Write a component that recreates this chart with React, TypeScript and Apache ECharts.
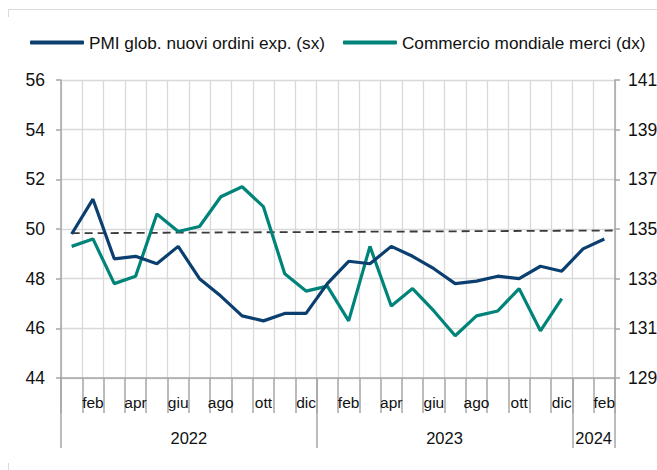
import React, { useEffect, useRef } from "react";
import * as echarts from "echarts";

const monthNames = ["gen", "feb", "mar", "apr", "mag", "giu", "lug", "ago", "set", "ott", "nov", "dic"];
const years = ["2022", "2023", "2024"];
const monthsPerYear = [12, 12, 2];

const pmi = [
  49.8, 51.2, 48.8, 48.9, 48.6, 49.3, 48.0, 47.3, 46.5, 46.3, 46.6, 46.6,
  47.8, 48.7, 48.6, 49.3, 48.9, 48.4, 47.8, 47.9, 48.1, 48.0, 48.5, 48.3,
  49.2, 49.6,
];
const trade = [
  134.3, 134.6, 132.8, 133.1, 135.6, 134.9, 135.1, 136.3, 136.7, 135.9, 133.2, 132.5,
  132.7, 131.3, 134.3, 131.9, 132.6, 131.7, 130.7, 131.5, 131.7, 132.6, 130.9, 132.2,
  null, null,
];
// reference dashed line (left-axis units), from first month to right edge
const refLine = [
  [0.5, 49.83],
  [26, 49.94],
];

const FONT = "'Liberation Sans', Arial, sans-serif";
const GRID = "#d9d9d9";
const AXIS = "#a6a6a6";

export default function App() {
  const ref = useRef<HTMLDivElement>(null);
  useEffect(() => {
    document.body.style.margin = "0";
    if (!ref.current) return;
    const chart = echarts.init(ref.current, null, { renderer: "svg" });

    const categories: string[] = [];
    monthsPerYear.forEach((n, yi) => {
      for (let m = 0; m < n; m++) categories.push(monthNames[m] + " " + years[yi]);
    });
    const total = categories.length;
    // boundary-based year axis (total + 1 positions)
    const yearAxis: string[] = new Array(total + 1).fill("");
    const boundaries: number[] = [0];
    let start = 0;
    monthsPerYear.forEach((n, yi) => {
      yearAxis[start + n / 2] = years[yi];
      start += n;
      boundaries.push(start);
    });
    const yearLabelIdx = yearAxis.map((v, i) => (v ? i : -1)).filter((i) => i >= 0);

    chart.setOption({
      animation: false,
      textStyle: { fontFamily: FONT },
      grid: { left: 61, right: 42, top: 80, bottom: 92, outerBoundsMode: "none" },
      legend: {
        left: 30,
        top: 34,
        width: 627,
        padding: 0,
        icon: "roundRect",
        itemWidth: 54,
        itemHeight: 4,
        itemGap: 18,
        textStyle: { fontFamily: FONT, fontSize: 17.2, color: "#111" },
        data: ["PMI glob. nuovi ordini exp. (sx)", "Commercio mondiale merci (dx)"],
      },
      graphic: [
        { type: "line", shape: { x1: 8, y1: 9.5, x2: 657, y2: 9.5 }, style: { stroke: GRID, lineWidth: 1 } },
        { type: "line", shape: { x1: 8.5, y1: 9, x2: 8.5, y2: 17 }, style: { stroke: GRID, lineWidth: 1 } },
        { type: "line", shape: { x1: 8.5, y1: 463, x2: 8.5, y2: 470 }, style: { stroke: GRID, lineWidth: 1 } },
      ],
      xAxis: [
        {
          type: "category",
          data: categories,
          boundaryGap: true,
          position: "bottom",
          axisLine: { show: true, lineStyle: { color: AXIS, width: 1.5 } },
          axisTick: { show: true, interval: 0, length: 35, lineStyle: { color: AXIS, width: 1.5 } },
          axisLabel: {
            interval: (i: number) => i % 2 === 1,
            formatter: (v: string) => v.split(" ")[0],
            margin: 16,
            fontSize: 15.5,
            color: "#111",
            fontFamily: FONT,
          },
          splitLine: { show: true, interval: 0, lineStyle: { color: GRID, width: 1.3 } },
        },
        {
          type: "category",
          data: yearAxis,
          boundaryGap: false,
          position: "bottom",
          axisLine: { show: false },
          axisTick: {
            show: true,
            length: 70,
            interval: (i: number) => boundaries.includes(i),
            lineStyle: { color: AXIS, width: 1.5 },
          },
          axisLabel: {
            interval: (i: number) => yearLabelIdx.includes(i),
            margin: 51,
            fontSize: 16.5,
            color: "#111",
            fontFamily: FONT,
          },
          splitLine: { show: false },
        },
        { type: "value", min: 0, max: total, show: false, position: "top" },
      ],
      yAxis: [
        {
          type: "value",
          min: 44,
          max: 56,
          interval: 2,
          position: "left",
          axisLine: { show: true, lineStyle: { color: AXIS, width: 1.5 } },
          axisTick: { show: true, length: 5, lineStyle: { color: AXIS, width: 1.5 } },
          axisLabel: { margin: 16, fontSize: 17.5, color: "#111", fontFamily: FONT },
          splitLine: { show: true, lineStyle: { color: GRID, width: 1.3 } },
        },
        {
          type: "value",
          min: 129,
          max: 141,
          interval: 2,
          position: "right",
          axisLine: { show: true, lineStyle: { color: AXIS, width: 1.5 } },
          axisTick: { show: true, length: 5, lineStyle: { color: AXIS, width: 1.5 } },
          axisLabel: { margin: 13, fontSize: 17.5, color: "#111", fontFamily: FONT },
          splitLine: { show: false },
        },
      ],
      series: [
        {
          name: "ref",
          type: "line",
          xAxisIndex: 2,
          yAxisIndex: 0,
          data: refLine,
          symbol: "none",
          silent: true,
          lineStyle: { color: "#3a3a3a", width: 1.8, type: [8, 5] },
          z: 1,
        },
        {
          name: "Commercio mondiale merci (dx)",
          type: "line",
          xAxisIndex: 0,
          yAxisIndex: 1,
          data: trade,
          symbol: "none",
          color: "#00847a",
          lineStyle: { color: "#00847a", width: 3.2 },
          z: 3,
        },
        {
          name: "PMI glob. nuovi ordini exp. (sx)",
          type: "line",
          xAxisIndex: 0,
          yAxisIndex: 0,
          data: pmi,
          symbol: "none",
          color: "#0b3f6f",
          lineStyle: { color: "#0b3f6f", width: 3.2 },
          z: 4,
        },
      ],
    });
    return () => chart.dispose();
  }, []);
  return <div ref={ref} style={{ width: 657, height: 470 }} />;
}
